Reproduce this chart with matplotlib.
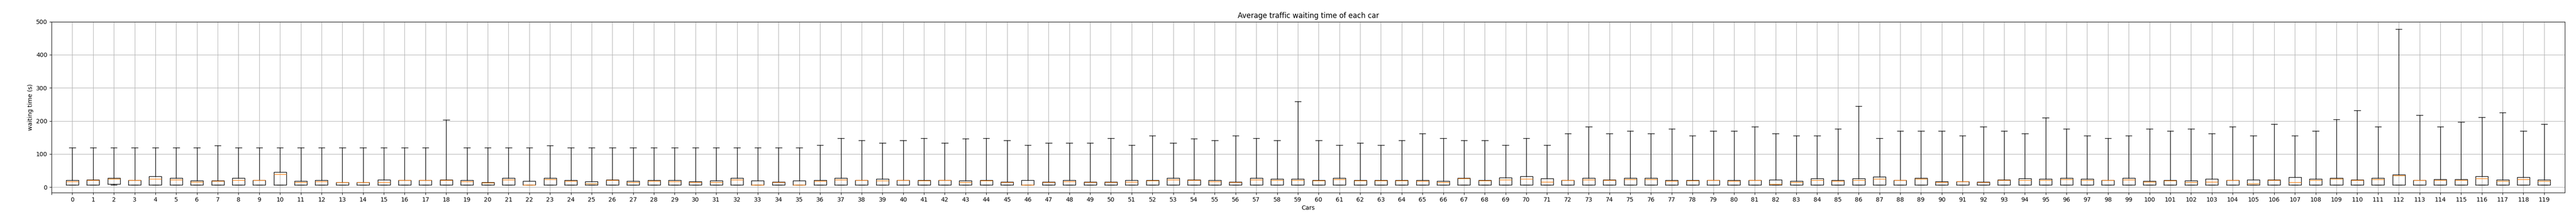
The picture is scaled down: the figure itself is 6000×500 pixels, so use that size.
import matplotlib
matplotlib.use('Agg')
import matplotlib.pyplot as plt

# car ids and box statistics (seconds)
cars = list(range(120))

q1 = [6.5] * 120
q1[2] = 9.0

medians = [16.8, 20.7, 25.4, 20.7, 24.6, 22.0, 15.5, 18.5, 20.7, 20.7,
           38.8, 14.7, 17.2, 14.7, 14.7, 14.7, 20.7, 20.7, 21.1, 17.2,
           13.8, 22.0, 6.9, 23.3, 19.0, 10.3, 20.7, 14.7, 18.5, 17.2,
           14.7, 14.7, 22.0, 6.9, 14.7, 6.9, 18.5, 22.0, 20.7, 19.4,
           20.7, 19.4, 20.7, 14.2, 19.4, 14.7, 6.9, 14.7, 17.2, 14.7,
           14.7, 15.5, 19.4, 22.0, 20.7, 17.2, 14.7, 22.0, 20.7, 20.7,
           19.4, 23.3, 19.4, 19.4, 19.4, 18.1, 14.2, 26.3, 19.4, 22.0,
           24.6, 15.5, 20.7, 22.0, 20.7, 23.3, 23.3, 18.1, 19.4, 20.7,
           18.1, 20.7, 9.0, 14.2, 20.7, 18.1, 20.7, 24.6, 20.7, 25.0,
           14.7, 16.8, 14.7, 20.7, 20.7, 20.7, 23.3, 20.7, 20.7, 22.0,
           15.5, 19.4, 14.2, 15.5, 20.7, 10.3, 20.7, 14.2, 20.7, 25.0,
           20.7, 23.3, 34.9, 20.7, 20.7, 20.7, 25.9, 18.0, 24.0, 19.0]

q3 = [20.7, 22.4, 27.2, 21.5, 32.3, 27.2, 19.8, 19.8, 27.2, 21.5,
      45.3, 18.1, 20.7, 15.1, 15.1, 22.4, 21.5, 21.5, 22.4, 20.7,
      14.7, 27.2, 18.1, 27.2, 20.7, 16.8, 22.4, 18.1, 20.7, 20.7,
      16.8, 19.4, 27.2, 19.4, 15.5, 19.4, 20.7, 27.2, 20.7, 24.6,
      20.7, 20.7, 20.7, 19.4, 20.7, 15.5, 20.7, 15.5, 20.7, 15.5,
      15.5, 20.7, 20.7, 27.2, 22.4, 20.7, 15.5, 27.2, 24.6, 24.6,
      20.7, 27.2, 20.7, 20.7, 20.7, 20.7, 18.1, 27.2, 20.7, 28.4,
      32.3, 25.9, 20.7, 27.2, 22.4, 27.2, 27.2, 20.7, 20.7, 20.7,
      20.7, 20.7, 22.0, 18.1, 25.9, 20.7, 25.9, 31.0, 20.7, 27.2,
      16.8, 16.8, 15.5, 22.0, 25.9, 24.6, 27.2, 24.6, 20.7, 27.2,
      18.1, 20.7, 19.4, 24.6, 20.7, 22.0, 22.0, 29.7, 24.6, 27.2,
      22.0, 27.2, 37.5, 20.7, 23.3, 23.3, 32.3, 22.0, 30.0, 22.0]

whis_low = [6.5] * 120

whis_high = [120, 120, 120, 120, 120, 120, 120, 125.4, 120, 120,
             120, 120, 120, 120, 120, 120, 120, 120, 203, 120,
             120, 120, 120, 125.4, 120, 120, 120, 120, 120, 120,
             120, 120, 120, 120, 120, 120, 126.7, 147.4, 141, 133.2,
             141, 147.4, 133.2, 146, 147.4, 141, 126.7, 133.2, 133.2, 133.2,
             147.4, 126.7, 155.2, 133.2, 146, 141, 155.2, 147.4, 141, 258.6,
             141, 126.7, 133.2, 126.7, 141, 161.6, 147.4, 141, 141, 126.7,
             147.4, 126.7, 161.6, 182.8, 161.6, 169.8, 161.6, 176.3, 155.2, 169.8,
             169.8, 182.8, 161.6, 155.2, 155.2, 176.3, 244.4, 147.4, 169.8, 169.8,
             169.8, 155.2, 182.8, 169.8, 161.6, 209.5, 176.3, 155.2, 147.4, 155.2,
             176.3, 169.8, 176.3, 161.6, 182.8, 155.2, 190, 155.2, 169.8, 204.3,
             231.5, 182.8, 477.2, 217.2, 182.8, 196.6, 210.8, 225, 170, 190]

stats = []
for i in range(len(cars)):
    stats.append({'med': medians[i], 'q1': q1[i], 'q3': q3[i],
                  'whislo': whis_low[i], 'whishi': whis_high[i],
                  'fliers': []})

fig = plt.figure(figsize=(60, 5), dpi=100)
ax = fig.add_axes([0.02, 0.1, 0.9757, 0.7987])
ax.bxp(stats, positions=[c + 1 for c in cars], widths=0.6)

ax.set_xticks([0] + [c + 1 for c in cars])
ax.set_xticklabels([''] + [str(c) for c in cars])
ax.set_xlim(0, 121)
ax.set_ylim(-16.4, 500)
ax.grid(True)
ax.set_title('Average traffic waiting time of each car')
ax.set_xlabel('Cars')
ax.set_ylabel('waiting time (s)')

plt.savefig('out.png')
